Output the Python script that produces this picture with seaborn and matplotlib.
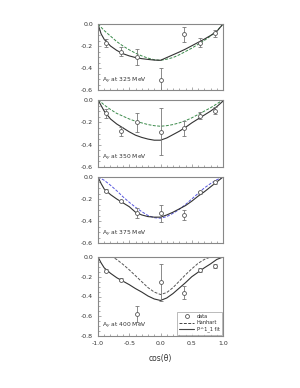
import matplotlib
matplotlib.use("Agg")
import matplotlib.pyplot as plt
import seaborn as sns
import pandas as pd
from matplotlib.ticker import MultipleLocator
from matplotlib.lines import Line2D

sns.set_style("ticks")
plt.rcParams['font.family'] = ['DejaVu Sans']

energies = ["325", "350", "375", "400"]
cos_pts = [-0.875, -0.625, -0.375, 0.0, 0.375, 0.625, 0.875]
cos_grid = [-1.0, -0.95, -0.9, -0.8, -0.7, -0.6, -0.5, -0.4, -0.3, -0.2, -0.1,
            0.0, 0.1, 0.2, 0.3, 0.4, 0.5, 0.6, 0.7, 0.8, 0.9, 1.0]

ay_325 = [-0.175, -0.25, -0.30, -0.51, -0.094, -0.17, -0.085]
err_325 = [0.035, 0.045, 0.075, 0.11, 0.07, 0.04, 0.035]
ay_350 = [-0.12, -0.28, -0.20, -0.285, -0.255, -0.14, -0.095]
err_350 = [0.04, 0.04, 0.087, 0.21, 0.07, 0.03, 0.03]
ay_375 = [-0.125, -0.22, -0.33, -0.33, -0.345, -0.14, -0.05]
err_375 = [0.015, 0.01, 0.045, 0.08, 0.045, 0.015, 0.015]
ay_400 = [-0.14, -0.23, -0.58, -0.258, -0.36, -0.133, -0.092]
err_400 = [0.015, 0.015, 0.08, 0.183, 0.065, 0.02, 0.02]

fit_325 = [0.0, -0.09, -0.14, -0.20, -0.24, -0.27, -0.29, -0.305, -0.315, -0.322, -0.328,
           -0.33, -0.305, -0.28, -0.255, -0.228, -0.198, -0.168, -0.138, -0.105, -0.068, 0.0]
hanhart_325 = [0.0, -0.03, -0.06, -0.11, -0.16, -0.20, -0.235, -0.265, -0.29, -0.31, -0.325,
               -0.33, -0.32, -0.305, -0.28, -0.25, -0.22, -0.185, -0.15, -0.11, -0.065, 0.0]
fit_350 = [0.0, -0.05, -0.10, -0.17, -0.215, -0.25, -0.285, -0.315, -0.335, -0.35, -0.36,
           -0.36, -0.34, -0.31, -0.28, -0.245, -0.205, -0.17, -0.135, -0.10, -0.06, -0.01]
hanhart_350 = [0.0, -0.02, -0.045, -0.085, -0.12, -0.145, -0.17, -0.19, -0.205, -0.22, -0.23,
               -0.235, -0.23, -0.22, -0.205, -0.185, -0.16, -0.13, -0.10, -0.07, -0.035, 0.0]
fit_375 = [0.0, -0.06, -0.11, -0.16, -0.20, -0.235, -0.27, -0.32, -0.345, -0.36, -0.365,
           -0.365, -0.345, -0.32, -0.29, -0.26, -0.22, -0.175, -0.135, -0.09, -0.045, 0.0]
hanhart_375 = [0.0, -0.015, -0.03, -0.075, -0.125, -0.18, -0.23, -0.275, -0.315, -0.35, -0.37,
               -0.375, -0.36, -0.33, -0.295, -0.25, -0.20, -0.15, -0.10, -0.06, -0.025, 0.0]
fit_400 = [0.0, -0.06, -0.11, -0.165, -0.21, -0.245, -0.28, -0.32, -0.355, -0.395, -0.425,
           -0.44, -0.415, -0.37, -0.315, -0.26, -0.20, -0.155, -0.11, -0.07, -0.025, 0.0]
hanhart_400 = [0.0, 0.01, 0.015, 0.01, -0.025, -0.075, -0.13, -0.19, -0.25, -0.31, -0.355,
               -0.38, -0.36, -0.31, -0.245, -0.18, -0.12, -0.065, -0.025, 0.0, 0.015, 0.0]

data_pts = [ay_325, ay_350, ay_375, ay_400]
data_err = [err_325, err_350, err_375, err_400]
fits = [fit_325, fit_350, fit_375, fit_400]
hanharts = [hanhart_325, hanhart_350, hanhart_375, hanhart_400]
hanhart_colors = ["#3a8a4a", "#3a8a4a", "#5555dd", "#555555"]
ylims = [(-0.6, 0.0), (-0.6, 0.0), (-0.6, 0.0), (-0.8, 0.0)]
yticks = [[0.0, -0.2, -0.4, -0.6]] * 3 + [[0.0, -0.2, -0.4, -0.6, -0.8]]
xticks = [-1.0, -0.5, 0.0, 0.5, 1.0]

fig = plt.figure(figsize=(3.0, 3.88), dpi=100)
left, width = 98 / 300, 125 / 300
rects = [(24, 90), (100, 167), (177, 243), (257, 336)]
frame_col = "#888888"
dash = (0, (3, 1.5))

for i, e in enumerate(energies):
    top, bot = rects[i]
    ax = fig.add_axes([left, 1 - bot / 388, width, (bot - top) / 388])
    dfc = pd.DataFrame({"cos": cos_grid, "fit": fits[i], "han": hanharts[i]})
    sns.lineplot(data=dfc, x="cos", y="han", ax=ax, color=hanhart_colors[i],
                 lw=0.7, linestyle=dash)
    sns.lineplot(data=dfc, x="cos", y="fit", ax=ax, color="#333333", lw=0.8)
    ax.errorbar(cos_pts, data_pts[i], yerr=data_err[i], fmt="o", ms=2.8,
                mfc="white", mec="#555555", mew=0.6, ecolor="#777777",
                elinewidth=0.6, capsize=1.2, capthick=0.6, zorder=5)
    ax.set_xlim(-1.0, 1.0)
    ax.set_ylim(*ylims[i])
    ax.set_yticks(yticks[i])
    ax.set_yticklabels([f"{t:.1f}" for t in yticks[i]])
    ax.yaxis.set_minor_locator(MultipleLocator(0.05))
    ax.xaxis.set_minor_locator(MultipleLocator(0.1))
    ax.set_xticks(xticks)
    ax.tick_params(axis="both", which="both", direction="in", colors=frame_col,
                   labelcolor="#333333", labelsize=4.5, width=0.5)
    ax.tick_params(which="major", length=2.5)
    ax.tick_params(which="minor", length=1.3)
    ax.set_xlabel("")
    ax.set_ylabel("")
    for s in ax.spines.values():
        s.set_color(frame_col)
        s.set_linewidth(0.8)
    if i < 3:
        ax.set_xticklabels([])
    else:
        ax.set_xticklabels([f"{t:.1f}" for t in xticks])
        ax.set_xlabel("cos(\u03b8)", fontsize=5.5, color="#333333", labelpad=6)
        handles = [
            Line2D([], [], ls="none", marker="o", ms=2.8, mfc="white",
                   mec="#555555", mew=0.6),
            Line2D([], [], color="#444444", lw=0.7, ls=dash),
            Line2D([], [], color="#444444", lw=0.8),
        ]
        leg = ax.legend(handles, ["data", "Hanhart", "P^1_1 fit"],
                        loc="lower right", fontsize=3.6, frameon=True, fancybox=False,
                        handlelength=3.0, borderpad=0.4, labelspacing=0.3,
                        handletextpad=0.5, borderaxespad=0.3)
        leg.get_frame().set_edgecolor(frame_col)
        leg.get_frame().set_linewidth(0.5)
    ax.text(-0.94, ylims[i][0] + 0.08 * (ylims[i][1] - ylims[i][0]) / 0.6,
            f"A$_y$ at {e} MeV", fontsize=4.3, color="#333333", va="center", ha="left")

fig.savefig("out.png", dpi=100)
